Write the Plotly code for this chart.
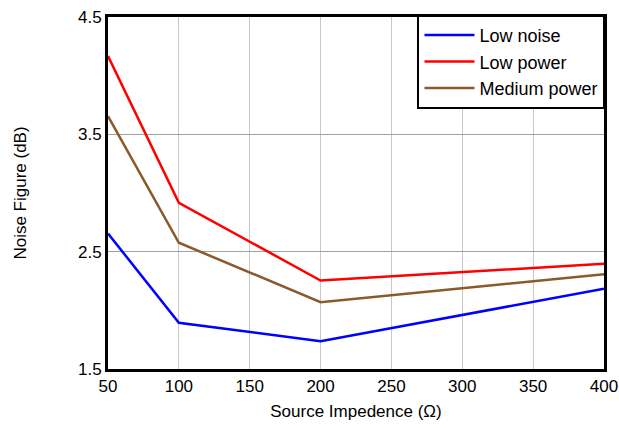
import plotly.graph_objects as go

impedance = [50, 100, 200, 400]
low_noise = [2.655, 1.894, 1.737, 2.184]
low_power = [4.167, 2.917, 2.254, 2.397]
medium_power = [3.655, 2.576, 2.07, 2.308]

series = [
    ("Low noise", low_noise, "#0000ff"),
    ("Low power", low_power, "#ff0000"),
    ("Medium power", medium_power, "#8b5a2b"),
]

fig = go.Figure()
for name, vals, color in series:
    fig.add_trace(go.Scatter(x=impedance, y=vals, mode="lines", name=name,
                             line=dict(color=color, width=2.5)))

font = dict(family="Liberation Sans, Arial, sans-serif", size=17, color="#000000")
fig.update_layout(
    width=619, height=428,
    margin=dict(l=108, r=15, t=17, b=59, autoexpand=False),
    paper_bgcolor="white", plot_bgcolor="white",
    font=font,
    showlegend=True,
    legend=dict(x=1.003, y=1.006, xanchor="right", yanchor="top",
                bordercolor="black", borderwidth=2, bgcolor="white",
                font=dict(size=18), tracegroupgap=0, itemwidth=50),
    xaxis=dict(range=[50, 400], tickvals=[50, 100, 150, 200, 250, 300, 350, 400],
               showgrid=True, gridcolor="#c8c8c8", gridwidth=1,
               showline=True, linecolor="black", linewidth=3, mirror=True,
               ticks="", zeroline=False, automargin=False, tickfont=dict(size=17),
               ticklabeloverflow="allow",
               title=dict(text="Source Impedence (Ω)", font=dict(size=17), standoff=10)),
    yaxis=dict(range=[1.5, 4.5], tickvals=[1.5, 2.5, 3.5, 4.5],
               ticktext=["1.5", "2.5", "3.5", "4.5"],
               showgrid=True, gridcolor="#a0a0a0", gridwidth=1,
               showline=True, linecolor="black", linewidth=3, mirror=True,
               ticks="", zeroline=False, automargin=False, tickfont=dict(size=17),
               ticklabeloverflow="allow",
               title=dict(text="Noise Figure (dB)", font=dict(size=17), standoff=48)),
)

fig.write_html(
    "out.html",
    config={"displayModeBar": False},
    post_script="document.body.style.margin='0';document.body.style.overflow='hidden';",
)
